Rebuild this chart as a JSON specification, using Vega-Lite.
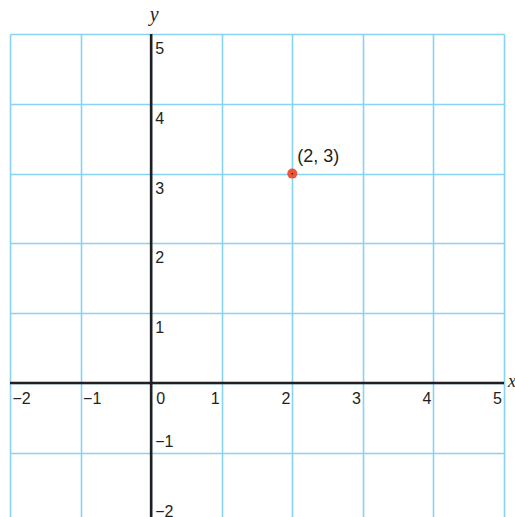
{
  "$schema": "https://vega.github.io/schema/vega-lite/v6.json",
  "autosize": {"type": "none"},
  "width": 494,
  "height": 483,
  "padding": {"left": 10, "top": 34, "right": 11, "bottom": 0},
  "background": "white",
  "config": {
    "view": {"stroke": null},
    "text": {"font": "Liberation Sans", "fontSize": 16, "fill": "#231f20"}
  },
  "datasets": {
    "xticks": [
      {"v": -2, "label": "−2"},
      {"v": -1, "label": "−1"},
      {"v": 0, "label": "0"},
      {"v": 1, "label": "1"},
      {"v": 2, "label": "2"},
      {"v": 3, "label": "3"},
      {"v": 4, "label": "4"},
      {"v": 5, "label": "5"}
    ],
    "yticks": [
      {"v": -2, "label": "−2"},
      {"v": -1, "label": "−1"},
      {"v": 1, "label": "1"},
      {"v": 2, "label": "2"},
      {"v": 3, "label": "3"},
      {"v": 4, "label": "4"},
      {"v": 5, "label": "5"}
    ],
    "origin": [{"x": 0, "y": 0}],
    "points": [{"x": 2, "y": 3, "label": "(2, 3)"}],
    "titles": [
      {"x": 0, "y": 5, "t": "y", "axis": "y"},
      {"x": 5, "y": 0, "t": "x", "axis": "x"}
    ]
  },
  "encoding": {
    "x": {
      "type": "quantitative",
      "scale": {"domain": [-2, 5], "nice": false, "zero": false},
      "axis": {
        "values": [-2, -1, 0, 1, 2, 3, 4, 5],
        "grid": true, "gridColor": "#86d3f3", "gridWidth": 1.6, "gridOpacity": 1,
        "labels": false, "ticks": false, "domain": false, "title": null
      }
    },
    "y": {
      "type": "quantitative",
      "scale": {"domain": [-1.92, 5], "nice": false, "zero": false},
      "axis": {
        "values": [-1, 0, 1, 2, 3, 4, 5],
        "grid": true, "gridColor": "#86d3f3", "gridWidth": 1.6, "gridOpacity": 1,
        "labels": false, "ticks": false, "domain": false, "title": null
      }
    }
  },
  "layer": [
    {
      "data": {"name": "origin"},
      "mark": {"type": "rule", "color": "#231f20", "strokeWidth": 2.6},
      "encoding": {"x": {"field": "x"}}
    },
    {
      "data": {"name": "origin"},
      "mark": {"type": "rule", "color": "#231f20", "strokeWidth": 2.6},
      "encoding": {"y": {"field": "y"}}
    },
    {
      "data": {"name": "xticks"},
      "transform": [{"filter": "datum.v < 0"}],
      "mark": {"type": "text", "align": "left", "baseline": "top", "dx": 2.5, "dy": 8},
      "encoding": {"x": {"field": "v"}, "y": {"datum": 0}, "text": {"field": "label"}}
    },
    {
      "data": {"name": "xticks"},
      "transform": [{"filter": "datum.v == 0"}],
      "mark": {"type": "text", "align": "left", "baseline": "top", "dx": 5, "dy": 8},
      "encoding": {"x": {"field": "v"}, "y": {"datum": 0}, "text": {"field": "label"}}
    },
    {
      "data": {"name": "xticks"},
      "transform": [{"filter": "datum.v > 0"}],
      "mark": {"type": "text", "align": "right", "baseline": "top", "dx": -2, "dy": 8},
      "encoding": {"x": {"field": "v"}, "y": {"datum": 0}, "text": {"field": "label"}}
    },
    {
      "data": {"name": "yticks"},
      "transform": [{"filter": "datum.v > 0"}],
      "mark": {"type": "text", "align": "left", "baseline": "top", "dx": 4, "dy": 7},
      "encoding": {"x": {"datum": 0}, "y": {"field": "v"}, "text": {"field": "label"}}
    },
    {
      "data": {"name": "yticks"},
      "transform": [{"filter": "datum.v < 0"}],
      "mark": {"type": "text", "align": "left", "baseline": "alphabetic", "dx": 4, "dy": -6},
      "encoding": {"x": {"datum": 0}, "y": {"field": "v"}, "text": {"field": "label"}}
    },
    {
      "data": {"name": "titles"},
      "transform": [{"filter": "datum.axis == 'y'"}],
      "mark": {"type": "text", "font": "Liberation Serif", "fontStyle": "italic", "fontSize": 20, "align": "center", "baseline": "alphabetic", "dx": 3, "dy": -13},
      "encoding": {"x": {"field": "x"}, "y": {"field": "y"}, "text": {"field": "t"}}
    },
    {
      "data": {"name": "titles"},
      "transform": [{"filter": "datum.axis == 'x'"}],
      "mark": {"type": "text", "font": "Liberation Serif", "fontStyle": "italic", "fontSize": 18, "align": "left", "baseline": "alphabetic", "dx": 4, "dy": 4},
      "encoding": {"x": {"field": "x"}, "y": {"field": "y"}, "text": {"field": "t"}}
    },
    {
      "data": {"name": "points"},
      "mark": {"type": "circle", "size": 100, "color": "#ee5538", "opacity": 1},
      "encoding": {"x": {"field": "x"}, "y": {"field": "y"}}
    },
    {
      "data": {"name": "points"},
      "mark": {"type": "circle", "size": 3, "color": "#231f20", "opacity": 1},
      "encoding": {"x": {"field": "x"}, "y": {"field": "y"}}
    },
    {
      "data": {"name": "points"},
      "mark": {"type": "text", "fontSize": 18, "align": "left", "baseline": "alphabetic", "dx": 5, "dy": -12},
      "encoding": {"x": {"field": "x"}, "y": {"field": "y"}, "text": {"field": "label"}}
    }
  ]
}
